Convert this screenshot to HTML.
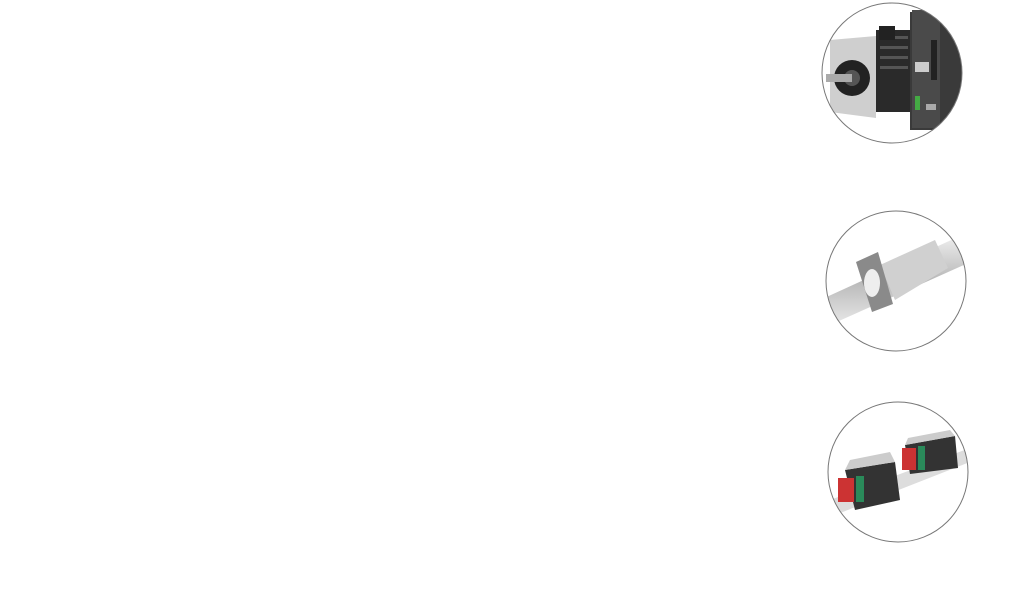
<!DOCTYPE html>
<html><head><meta charset="utf-8"><style>
html,body{margin:0;padding:0;background:#fff;width:1020px;height:608px;overflow:hidden}
svg{position:absolute;left:0;top:0}
</style></head><body>
<svg width="1020" height="608" viewBox="0 0 1020 608">
<defs>
<clipPath id="c1"><circle cx="892" cy="73" r="70"/></clipPath>
<clipPath id="c2"><circle cx="896" cy="281" r="70"/></clipPath>
<clipPath id="c3"><circle cx="898" cy="472" r="70"/></clipPath>
<linearGradient id="sil" x1="0" y1="0" x2="0" y2="1"><stop offset="0" stop-color="#eee"/><stop offset=".5" stop-color="#b8b8b8"/><stop offset="1" stop-color="#e8e8e8"/></linearGradient>
</defs>
<!-- circle 1: servo motor + driver -->
<g clip-path="url(#c1)">
<rect x="820" y="0" width="150" height="150" fill="#fff"/>
<rect x="876" y="30" width="36" height="82" fill="#2a2a2a"/>
<rect x="880" y="36" width="28" height="3" fill="#555"/><rect x="880" y="46" width="28" height="3" fill="#555"/><rect x="880" y="56" width="28" height="3" fill="#555"/><rect x="880" y="66" width="28" height="3" fill="#555"/>
<rect x="879" y="26" width="16" height="14" fill="#222"/>
<polygon points="830,40 876,36 876,118 830,112" fill="#cfcfcf"/>
<circle cx="852" cy="78" r="18" fill="#222"/><circle cx="852" cy="78" r="8" fill="#555"/>
<rect x="826" y="74" width="26" height="8" fill="#aaa"/>
<rect x="910" y="12" width="55" height="118" fill="#3a3a3a"/>
<rect x="912" y="10" width="28" height="118" fill="#4a4a4a"/>
<rect x="915" y="62" width="14" height="10" fill="#ccc"/>
<rect x="931" y="40" width="6" height="40" fill="#222"/>
<rect x="915" y="96" width="5" height="14" fill="#4a4"/>
<rect x="926" y="104" width="10" height="6" fill="#aaa"/>
</g>
<circle cx="892" cy="73" r="70" fill="none" stroke="#777" stroke-width="1"/>
<!-- circle 2: ball screw -->
<g clip-path="url(#c2)">
<rect x="820" y="200" width="160" height="160" fill="#fff"/>
<polygon points="820,300 960,236 975,260 830,325" fill="url(#sil)"/>
<polygon points="880,265 935,240 948,268 895,300" fill="#d0d0d0"/>
<polygon points="856,262 878,252 893,304 872,312" fill="#8a8a8a"/>
<ellipse cx="872" cy="283" rx="8" ry="14" fill="#eee"/>
</g>
<circle cx="896" cy="281" r="70" fill="none" stroke="#777" stroke-width="1"/>
<!-- circle 3: linear guide -->
<g clip-path="url(#c3)">
<rect x="825" y="400" width="150" height="150" fill="#fff"/>
<polygon points="830,500 970,448 975,460 835,515" fill="#ddd"/>
<polygon points="845,470 895,462 900,500 855,510" fill="#333"/>
<polygon points="845,470 895,462 890,452 850,460" fill="#ccc"/>
<rect x="838" y="478" width="16" height="24" fill="#c33"/>
<rect x="856" y="476" width="8" height="26" fill="#2a8a5a"/>
<polygon points="905,445 955,436 958,468 910,474" fill="#333"/>
<polygon points="905,445 955,436 950,430 908,438" fill="#ccc"/>
<rect x="902" y="448" width="14" height="22" fill="#c33"/>
<rect x="918" y="446" width="7" height="24" fill="#2a8a5a"/>
</g>
<circle cx="898" cy="472" r="70" fill="none" stroke="#777" stroke-width="1"/>
</svg>
</body></html>
